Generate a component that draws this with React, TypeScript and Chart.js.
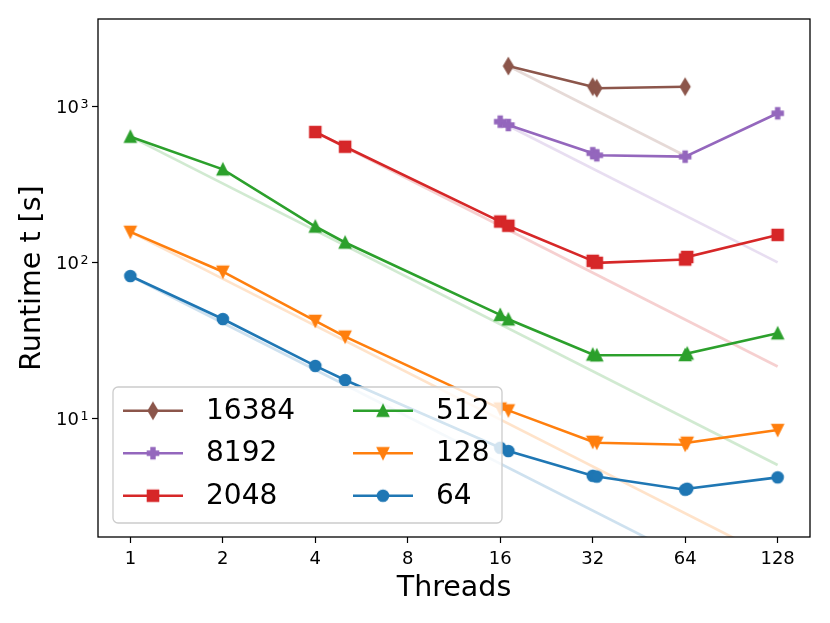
import React, { useEffect, useRef } from "react";
import Chart from "chart.js/auto";

// tick values
const xTickValues = [1, 2, 4, 8, 16, 32, 64, 128];
const yTickValues = [10, 100, 1000];

// series (problem size -> threads / runtime in s)
const threads16384 = [17, 32, 33, 64];
const runtime16384 = [1832, 1350, 1320, 1350];

const threads8192 = [16, 17, 32, 33, 64, 128];
const runtime8192 = [805, 766, 505, 490, 480, 911];

const threads2048 = [4, 5, 16, 17, 32, 33, 64, 65, 128];
const runtime2048 = [691, 556, 184, 173, 103, 100, 105, 109, 151];

const threads512 = [1, 2, 4, 5, 16, 17, 32, 33, 64, 65, 128];
const runtime512 = [645, 398, 171, 135, 46.3, 43.4, 25.8, 25.5, 25.6, 26.2, 35.3];

const threads128 = [1, 2, 4, 5, 16, 17, 32, 33, 64, 65, 128];
const runtime128 = [158, 87.7, 42.4, 33.6, 11.6, 11.3, 7.1, 7.0, 6.8, 7.0, 8.45];

const threads64 = [1, 2, 4, 5, 16, 17, 32, 33, 64, 65, 128];
const runtime64 = [82.3, 43.6, 21.8, 17.7, 6.5, 6.2, 4.3, 4.25, 3.5, 3.55, 4.2];

const seriesLabels = ["16384", "8192", "2048", "512", "128", "64"];
const seriesThreads = [threads16384, threads8192, threads2048, threads512, threads128, threads64];
const seriesRuntime = [runtime16384, runtime8192, runtime2048, runtime512, runtime128, runtime64];
const seriesColors = ["#8c564b", "#9467bd", "#d62728", "#2ca02c", "#ff7f0e", "#1f77b4"];
const seriesFaded = [
  "rgba(140,86,75,0.22)",
  "rgba(148,103,189,0.22)",
  "rgba(214,39,40,0.22)",
  "rgba(44,160,44,0.22)",
  "rgba(255,127,14,0.22)",
  "rgba(31,119,180,0.22)",
];
const seriesShapes = ["thinDiamond", "plusFilled", "square", "triangleUp", "triangleDown", "circle"];

const FONT = "'DejaVu Sans', sans-serif";
const MS = 10.8; // marker size px
const MEW = 1.8; // marker edge width

function markerPath(ctx: CanvasRenderingContext2D, shape: string, cx: number, cy: number) {
  const h = MS / 2;
  ctx.beginPath();
  if (shape === "circle") {
    ctx.arc(cx, cy, h, 0, Math.PI * 2);
  } else if (shape === "square") {
    ctx.rect(cx - h, cy - h, MS, MS);
  } else if (shape === "triangleUp") {
    ctx.moveTo(cx, cy - h);
    ctx.lineTo(cx - h, cy + h);
    ctx.lineTo(cx + h, cy + h);
    ctx.closePath();
  } else if (shape === "triangleDown") {
    ctx.moveTo(cx, cy + h);
    ctx.lineTo(cx - h, cy - h);
    ctx.lineTo(cx + h, cy - h);
    ctx.closePath();
  } else if (shape === "thinDiamond") {
    const d = MS * Math.SQRT1_2;
    ctx.moveTo(cx, cy - d);
    ctx.lineTo(cx + 0.6 * d, cy);
    ctx.lineTo(cx, cy + d);
    ctx.lineTo(cx - 0.6 * d, cy);
    ctx.closePath();
  } else if (shape === "plusFilled") {
    const a = MS / 6;
    const pts = [
      [-1, -3], [1, -3], [1, -1], [3, -1], [3, 1], [1, 1],
      [1, 3], [-1, 3], [-1, 1], [-3, 1], [-3, -1], [-1, -1],
    ];
    pts.forEach(([px, py], i) => {
      if (i === 0) ctx.moveTo(cx + px * a, cy + py * a);
      else ctx.lineTo(cx + px * a, cy + py * a);
    });
    ctx.closePath();
  }
}

function makeMarker(shape: string, color: string) {
  const c = document.createElement("canvas");
  c.width = 24;
  c.height = 24;
  const ctx = c.getContext("2d")!;
  markerPath(ctx, shape, 12, 12);
  ctx.fillStyle = color;
  ctx.fill();
  ctx.lineWidth = MEW;
  ctx.strokeStyle = color;
  ctx.lineJoin = "miter";
  ctx.stroke();
  return c;
}

const App: React.FC = () => {
  const canvasRef = useRef<HTMLCanvasElement | null>(null);

  useEffect(() => {
    if (!canvasRef.current) return;

    const markers = seriesShapes.map((s, i) => makeMarker(s, seriesColors[i]));

    const mainSets = seriesLabels.map((label, i) => ({
      label,
      data: seriesThreads[i].map((x, j) => ({ x, y: seriesRuntime[i][j] })),
      borderColor: seriesColors[i],
      backgroundColor: seriesColors[i],
      borderWidth: 2.6,
      pointStyle: markers[i],
      pointRadius: 6,
      pointHoverRadius: 6,
      fill: false,
      tension: 0,
    }));

    // ideal scaling from the first measurement of each series
    const idealSets = seriesLabels.map((label, i) => {
      const xs = seriesThreads[i];
      const x0 = xs[0];
      const y0 = seriesRuntime[i][0];
      const x1 = xs[xs.length - 1];
      return {
        label: label + " ideal",
        data: [
          { x: x0, y: y0 },
          { x: x1, y: (y0 * x0) / x1 },
        ],
        borderColor: seriesFaded[i],
        borderWidth: 2.7,
        pointRadius: 0,
        pointHoverRadius: 0,
        fill: false,
      };
    });

    const frame = {
      id: "frame",
      afterDatasetsDraw(chart: any) {
        const { ctx, chartArea: a } = chart;
        ctx.save();
        ctx.strokeStyle = "#000";
        ctx.lineWidth = 1.3;
        ctx.strokeRect(a.left, a.top, a.right - a.left, a.bottom - a.top);

        // y tick labels as 10^n with a raised exponent
        const yScale = chart.scales.y;
        ctx.fillStyle = "#000";
        ctx.textBaseline = "alphabetic";
        yTickValues.forEach((v) => {
          const py = yScale.getPixelForValue(v);
          const exp = String(Math.round(Math.log10(v)));
          ctx.font = `12.6px ${FONT}`;
          ctx.textAlign = "right";
          ctx.fillText(exp, a.left - 9.5, py + 1.5);
          const ew = ctx.measureText(exp).width;
          ctx.font = `18px ${FONT}`;
          ctx.fillText("10", a.left - 11 - ew, py + 6.5);
        });

        // legend box
        const lx = a.left + 15;
        const ly = a.bottom - 150;
        const lw = 389;
        const lh = 136;
        ctx.beginPath();
        ctx.roundRect(lx, ly, lw, lh, 5);
        ctx.fillStyle = "rgba(255,255,255,0.8)";
        ctx.fill();
        ctx.strokeStyle = "#cccccc";
        ctx.lineWidth = 1.3;
        ctx.stroke();

        ctx.font = `28px ${FONT}`;
        ctx.textBaseline = "middle";
        ctx.textAlign = "left";
        seriesLabels.forEach((label, i) => {
          const col = Math.floor(i / 3);
          const row = i % 3;
          const hx = lx + 10 + col * 230;
          const cy = ly + 23.7 + row * 42.5;
          ctx.beginPath();
          ctx.moveTo(hx, cy);
          ctx.lineTo(hx + 60, cy);
          ctx.strokeStyle = seriesColors[i];
          ctx.lineWidth = 2.6;
          ctx.stroke();
          ctx.drawImage(markers[i], hx + 30 - 12, cy - 12);
          ctx.fillStyle = "#000";
          ctx.fillText(label, hx + 83, cy + 1);
        });
        ctx.restore();
      },
    };

    const chart = new Chart(canvasRef.current, {
      type: "line",
      data: { datasets: [...mainSets, ...idealSets] as any },
      options: {
        responsive: false,
        animation: false,
        layout: { padding: { left: 0, top: 19, right: 20, bottom: 0 } },
        plugins: {
          legend: { display: false },
          tooltip: { enabled: false },
        },
        scales: {
          x: {
            type: "logarithmic",
            min: Math.pow(2, -0.35),
            max: Math.pow(2, 7.35),
            afterBuildTicks: (s: any) => {
              s.ticks = xTickValues.map((v) => ({ value: v }));
            },
            afterFit: (s: any) => {
              s.height = 86;
            },
            border: { display: false },
            grid: {
              drawOnChartArea: false,
              drawTicks: true,
              tickLength: 6,
              tickColor: "#000",
              tickWidth: 1.2,
            },
            ticks: {
              autoSkip: false,
              maxRotation: 0,
              padding: 6,
              color: "#000",
              font: { family: FONT, size: 18 },
              callback: (v: any) => String(v),
            },
            title: {
              display: true,
              text: "Threads",
              color: "#000",
              font: { family: FONT, size: 28.5 },
              padding: { top: 0, bottom: 17 },
            },
          },
          y: {
            type: "logarithmic",
            min: 1.74,
            max: 3670,
            afterBuildTicks: (s: any) => {
              s.ticks = yTickValues.map((v) => ({ value: v }));
            },
            afterFit: (s: any) => {
              s.width = 98;
            },
            border: { display: false },
            grid: {
              drawOnChartArea: false,
              drawTicks: true,
              tickLength: 6,
              tickColor: "#000",
              tickWidth: 1.2,
            },
            ticks: {
              autoSkip: false,
              padding: 3,
              color: "#000",
              font: { family: FONT, size: 18 },
              // drawn by the frame plugin with a raised exponent
              callback: () => "",
            },
            title: {
              display: true,
              text: "Runtime t [s]",
              color: "#000",
              font: { family: FONT, size: 28.5 },
              padding: { top: 15, bottom: 0 },
            },
          },
        },
      },
      plugins: [frame],
    });

    return () => {
      chart.destroy();
    };
  }, []);

  return (
    <div style={{ position: "absolute", left: 0, top: 0, width: 830, height: 623, background: "#fff" }}>
      <canvas ref={canvasRef} width={830} height={623} style={{ width: 830, height: 623 }}></canvas>
    </div>
  );
};

export default App;
